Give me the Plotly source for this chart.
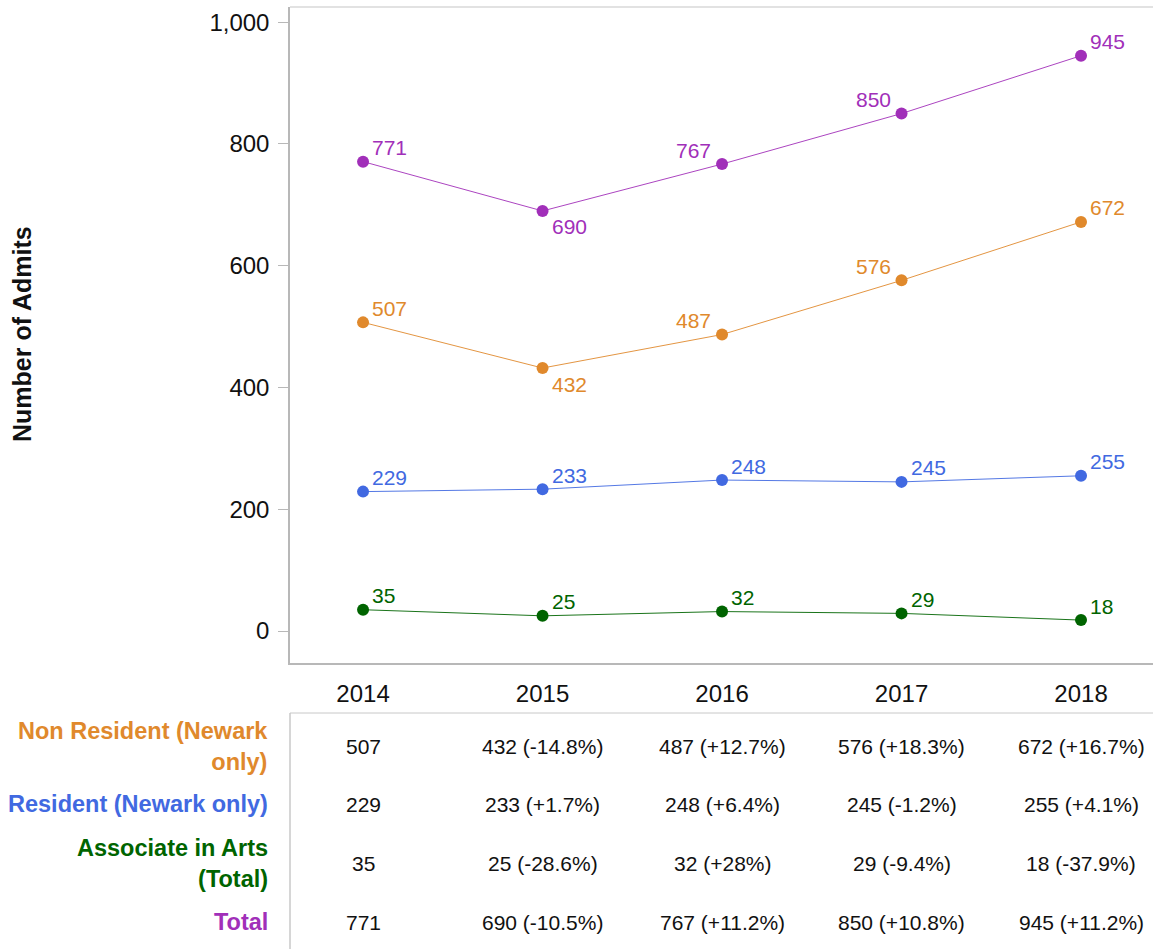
import plotly.graph_objects as go

years = [2014, 2015, 2016, 2017, 2018]
non_resident = [507, 432, 487, 576, 672]
resident = [229, 233, 248, 245, 255]
associate = [35, 25, 32, 29, 18]
total = [771, 690, 767, 850, 945]

series_names = ["Non Resident (Newark<br>only)", "Resident (Newark only)",
                "Associate in Arts<br>(Total)", "Total"]
series_values = [non_resident, resident, associate, total]
series_colors = ["#e0892c", "#4169e1", "#006400", "#a12fb9"]
label_positions = [
    ["top right", "bottom right", "top left", "top left", "top right"],
    ["top right"] * 5,
    ["top right"] * 5,
    ["top right", "bottom right", "top left", "top left", "top right"],
]

FONT = "Liberation Sans, Arial, sans-serif"
W, H = 1153, 949
L, T, B = 290, 7, 286
plot_h = H - T - B
plot_w = W - L


def py(p):
    # pixel row -> paper y
    return (H - B - p) / plot_h


def px(p):
    return (p - L) / plot_w


fig = go.Figure()
annotations = []
for vals, color, pos in zip(series_values, series_colors, label_positions):
    fig.add_trace(go.Scatter(
        x=years, y=vals, mode="lines+markers",
        line=dict(color=color, width=0.9),
        marker=dict(color=color, size=12),
        showlegend=False, cliponaxis=False,
    ))
    # value labels beside each point
    for yr, v, p in zip(years, vals, pos):
        vert, horiz = p.split()
        annotations.append(dict(
            x=yr, y=v, xref="x", yref="y", text=str(v), showarrow=False,
            xanchor="left" if horiz == "right" else "right", yanchor="middle",
            xshift=7 if horiz == "right" else -9,
            yshift=14 if vert == "top" else -16,
            font=dict(color=color, size=21, family=FONT)))


def fmt_change(cur, prev):
    pct = round((cur - prev) / prev * 100, 1)
    s = f"{pct:g}"
    return f"{cur} ({'+' if pct > 0 else ''}{s}%)"


row_centers = [746, 804, 863, 922]
for name, vals, color, yc in zip(series_names, series_values, series_colors, row_centers):
    annotations.append(dict(
        x=px(270), y=py(yc), xref="paper", yref="paper", text=f"<b>{name}</b>",
        xanchor="right", yanchor="middle", align="right", showarrow=False,
        font=dict(color=color, size=23.5, family=FONT)))
    for i, (yr, v) in enumerate(zip(years, vals)):
        txt = str(v) if i == 0 else fmt_change(v, vals[i - 1])
        annotations.append(dict(
            x=yr, y=py(yc), xref="x", yref="paper", text=txt,
            xanchor="center", yanchor="middle", showarrow=False,
            font=dict(color="#111111", size=21, family=FONT)))

annotations.append(dict(
    x=px(22), y=py(334), xref="paper", yref="paper", text="<b>Number of Admits</b>",
    textangle=-90, showarrow=False, xanchor="center", yanchor="middle",
    font=dict(color="#111111", size=25, family=FONT)))

shapes = [
    dict(type="line", xref="paper", yref="paper", x0=0, x1=1, y0=1, y1=1,
         line=dict(color="#e2e2e2", width=2)),
    dict(type="line", xref="paper", yref="paper", x0=0, x1=1, y0=py(713), y1=py(713),
         line=dict(color="#c8c8c8", width=1)),
    dict(type="line", xref="paper", yref="paper", x0=0, x1=0, y0=py(713), y1=py(949),
         line=dict(color="#c8c8c8", width=1.5)),
]

fig.update_layout(
    width=W, height=H,
    margin=dict(l=L, r=0, t=T, b=B),
    paper_bgcolor="white", plot_bgcolor="white",
    font=dict(family=FONT, color="#111111"),
    xaxis=dict(range=[2013.593, 2018.401], tickvals=years, ticktext=[str(y) for y in years],
               showgrid=False, zeroline=False, showline=True, linecolor="#b8b8b8",
               linewidth=1.5, ticks="", tickfont=dict(size=24), ticklabelstandoff=8),
    yaxis=dict(range=[-52.5, 1025], tickvals=[0, 200, 400, 600, 800, 1000],
               tickformat=",", showgrid=False, zeroline=False, showline=True,
               linecolor="#b8b8b8", linewidth=1.5, ticks="outside", ticklen=10,
               tickcolor="#b8b8b8", tickfont=dict(size=24), ticklabelstandoff=4),
    annotations=annotations, shapes=shapes,
)

fig.write_html("out.html")
